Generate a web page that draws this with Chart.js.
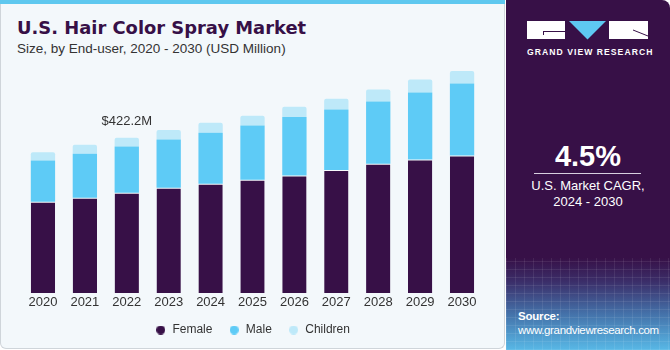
<!DOCTYPE html>
<html>
<head>
<meta charset="utf-8">
<script src="https://cdn.jsdelivr.net/npm/chart.js@4/dist/chart.umd.min.js"></script>
<style>
  html, body { margin:0; padding:0; width:670px; height:350px; overflow:hidden; background:#ffffff; font-family:"Liberation Sans", Arial, sans-serif; }
  #main { position:absolute; left:0; top:0; width:503px; height:348px; background:#f3f8fb; border:1px solid #cfd5da; border-top:none; border-radius:0 0 6px 6px; }
  #strip { position:absolute; left:0; top:0; width:505px; height:4px; background:#5ec8ef; }
  #title { position:absolute; left:17px; top:17px; font-family:"DejaVu Sans", sans-serif; font-size:17.9px; font-weight:bold; color:#371047; white-space:nowrap; }
  #subtitle { position:absolute; left:17px; top:41px; font-size:13.5px; color:#333333; white-space:nowrap; }
  #chartbox { position:absolute; left:22px; top:60px; width:461px; height:286px; }
  #side { position:absolute; left:506px; top:0; width:164px; height:350px; background:#371047; border-radius:0 8px 0 0; overflow:hidden; }
  #sidebottom { position:absolute; left:0; top:258px; width:164px; height:92px;
    background:
      repeating-linear-gradient(90deg, rgba(255,255,255,0.08) 0 1px, transparent 1px 9px),
      repeating-linear-gradient(0deg, rgba(255,255,255,0.08) 0 1px, transparent 1px 8px),
      linear-gradient(180deg, #371047 0%, #3b2d68 25%, #4470a8 60%, #58b8e6 100%); }
  .blk { position:absolute; background:#ffffff; }
  .dk { position:absolute; background:#371047; }
  #gvr { position:absolute; left:21px; top:47px; font-size:8.6px; font-weight:bold; color:#ffffff; letter-spacing:1.05px; white-space:nowrap; }
  #cagr { position:absolute; left:0; width:164px; top:140px; text-align:center; font-size:29px; font-weight:bold; color:#ffffff; }
  #rule { position:absolute; left:28px; top:173px; width:107px; height:1px; background:#d8cfe0; }
  #cagrtxt { position:absolute; left:0; width:164px; top:178px; text-align:center; font-size:13px; line-height:16px; color:#ffffff; }
  #src1 { position:absolute; left:12px; top:310px; font-size:11.5px; font-weight:bold; color:#ffffff; letter-spacing:-0.2px; }
  #src2 { position:absolute; left:12px; top:324px; font-size:11.5px; color:#ffffff; white-space:nowrap; letter-spacing:-0.35px; }
</style>
</head>
<body>
<div id="main"></div>
<div id="strip"></div>
<div id="title">U.S. Hair Color Spray Market</div>
<div id="subtitle">Size, by End-user, 2020 - 2030 (USD Million)</div>
<div id="chartbox"><canvas id="c"></canvas></div>

<div id="side">
  <div id="sidebottom"></div>
  <div class="blk" style="left:21px;top:21px;width:38px;height:18px;"></div>
  <div class="dk" style="left:37px;top:31px;width:22px;height:1px;"></div>
  <div class="dk" style="left:37px;top:31px;width:1px;height:4px;"></div>
  <svg style="position:absolute;left:63px;top:21px;" width="38" height="19"><polygon points="0,0 37,0 18.5,18.5" fill="#5ec8f2"/></svg>
  <div class="blk" style="left:103px;top:21px;width:39px;height:18px;"></div>
  <svg style="position:absolute;left:103px;top:21px;" width="39" height="18"><line x1="24" y1="9" x2="39" y2="15" stroke="#371047" stroke-width="1"/></svg>
  <div id="gvr">GRAND VIEW RESEARCH</div>
  <div id="cagr">4.5%</div>
  <div id="rule"></div>
  <div id="cagrtxt">U.S. Market CAGR,<br>2024 - 2030</div>
  <div id="src1">Source:</div>
  <div id="src2">www.grandviewresearch.com</div>
</div>

<script>
const years = ["2020","2021","2022","2023","2024","2025","2026","2027","2028","2029","2030"];
const female   = [248.2, 259.1, 272.7, 286.3, 297.2, 308.1, 319.8, 334.4, 351.6, 363.3, 374.1];
const male     = [112.3, 119.6, 125.9, 131.3, 138.7, 147.6, 158.8, 164.8, 169.4, 182.2, 195.8];
const children = [22.8, 24.5, 23.6, 25.6, 27.2, 26.4, 28.0, 29.1, 32.6, 35.3, 34.5];
const seriesColors = ['#371047', '#5ecbf6', '#bee9f9'];
const annotationIndex = 2;
const annotationText = "$422.2M";

function dot(color) {
  const c = document.createElement('canvas');
  c.width = 9; c.height = 9;
  const g = c.getContext('2d');
  g.fillStyle = color;
  g.beginPath(); g.arc(4.5, 4.5, 4.5, 0, Math.PI * 2); g.fill();
  return c;
}
const dots = seriesColors.map(dot);

const annotate = {
  id: 'annotate',
  afterDatasetsDraw(chart) {
    const {ctx, scales} = chart;
    const i = annotationIndex;
    const total = female[i] + male[i] + children[i];
    const x = scales.x.getPixelForValue(i);
    const y = scales.y.getPixelForValue(total);
    ctx.save();
    ctx.font = '13px "Liberation Sans", Arial, sans-serif';
    ctx.fillStyle = '#333333';
    ctx.textAlign = 'center';
    ctx.textBaseline = 'middle';
    ctx.fillText(annotationText, x, y - 16);
    ctx.restore();
  }
};

new Chart(document.getElementById('c'), {
  type: 'bar',
  data: {
    labels: years,
    datasets: [
      { label: 'Female', data: female, backgroundColor: seriesColors[0], borderColor: 'rgba(255,255,255,0.35)', borderWidth: {top:1, left:0, right:0, bottom:0}, borderSkipped: false },
      { label: 'Male', data: male, backgroundColor: seriesColors[1], borderWidth: 0 },
      { label: 'Children', data: children, backgroundColor: seriesColors[2], borderWidth: 0, borderRadius: {topLeft:2, topRight:2}, borderSkipped: 'bottom' }
    ]
  },
  options: {
    responsive: true,
    maintainAspectRatio: false,
    animation: false,
    layout: { padding: 0 },
    datasets: { bar: { barPercentage: 0.58, categoryPercentage: 1.0 } },
    scales: {
      x: {
        stacked: true,
        grid: { display: false, drawTicks: false },
        border: { display: false },
        ticks: { color: '#333333', font: { size: 13, family: '"Liberation Sans", Arial, sans-serif' }, padding: 2 },
        afterFit(scale) { scale.height = 15; }
      },
      y: { stacked: true, display: false, min: 0, max: 634 }
    },
    plugins: {
      legend: {
        position: 'bottom',
        labels: {
          usePointStyle: true,
          pointStyleWidth: 11.4,
          boxWidth: 9, boxHeight: 9, padding: 16,
          color: '#333333',
          font: { size: 12, family: '"Liberation Sans", Arial, sans-serif' },
          generateLabels(chart) {
            const items = Chart.defaults.plugins.legend.labels.generateLabels(chart);
            items.forEach((it, i) => { it.pointStyle = dots[i]; });
            return items;
          }
        }
      },
      tooltip: { enabled: false }
    }
  },
  plugins: [annotate]
});
</script>
</body>
</html>
